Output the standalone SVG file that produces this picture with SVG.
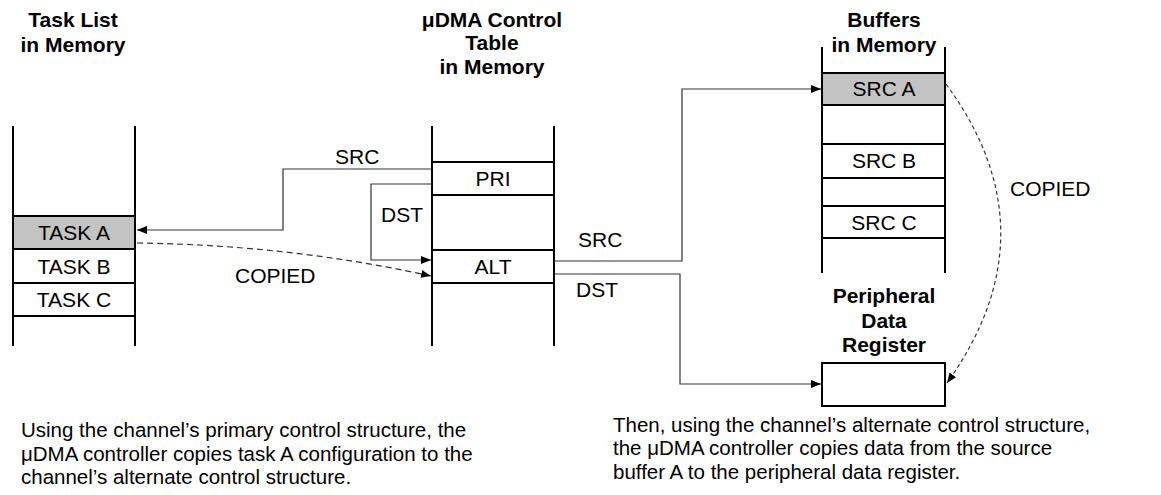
<svg xmlns="http://www.w3.org/2000/svg" width="1161" height="495" viewBox="0 0 1161 495">
<defs>
<style>
.t{font-family:"Liberation Sans",Arial,sans-serif;font-size:21px;fill:#000}
.c{font-size:20.5px}
.b{font-weight:bold}
.m{text-anchor:middle}
.col{stroke:#000;stroke-width:2;fill:none}
.row{stroke:#000;stroke-width:2;fill:#fff}
.sel{stroke:#000;stroke-width:2;fill:#c3c3c3}
.con{stroke:#333;stroke-width:1.2;fill:none}
.dash{stroke:#333;stroke-width:1.2;fill:none;stroke-dasharray:6 4}
.dash2{stroke:#333;stroke-width:1.2;fill:none;stroke-dasharray:4 3}
</style>
<marker id="ar" viewBox="0 0 10 10" refX="10" refY="5" markerWidth="10" markerHeight="10" markerUnits="userSpaceOnUse" orient="auto">
<path d="M0,1 L10,5 L0,9 Z" fill="#000"/>
</marker>
</defs>
<rect width="1161" height="495" fill="#fff"/>

<g id="task-list">
<text class="t b m" x="73" y="27">Task List</text>
<text class="t b m" x="73" y="52">in Memory</text>
<line class="col" x1="13" y1="126" x2="13" y2="346"/>
<line class="col" x1="135" y1="126" x2="135" y2="346"/>
<rect class="sel" x="13" y="216" width="122" height="33"/>
<rect class="row" x="13" y="249" width="122" height="34"/>
<rect class="row" x="13" y="283" width="122" height="33"/>
<text class="t m" x="74" y="240">TASK A</text>
<text class="t m" x="74" y="274">TASK B</text>
<text class="t m" x="74" y="307">TASK C</text>
</g>

<g id="control-table">
<text class="t b m" x="492" y="27">μDMA Control</text>
<text class="t b m" x="492" y="50">Table</text>
<text class="t b m" x="492" y="74">in Memory</text>
<line class="col" x1="432" y1="126" x2="432" y2="346"/>
<line class="col" x1="554" y1="126" x2="554" y2="346"/>
<rect class="row" x="432" y="162" width="122" height="33"/>
<rect class="row" x="432" y="250" width="122" height="33"/>
<text class="t m" x="493" y="186">PRI</text>
<text class="t m" x="493" y="274">ALT</text>
</g>

<g id="buffers">
<text class="t b m" x="884" y="27">Buffers</text>
<text class="t b m" x="884" y="52">in Memory</text>
<line class="col" x1="822" y1="47" x2="822" y2="273"/>
<line class="col" x1="945" y1="47" x2="945" y2="273"/>
<rect class="sel" x="822" y="73" width="123" height="32"/>
<rect class="row" x="822" y="144" width="123" height="34"/>
<rect class="row" x="822" y="206" width="123" height="32"/>
<text class="t m" x="884" y="96">SRC A</text>
<text class="t m" x="884" y="168">SRC B</text>
<text class="t m" x="884" y="230">SRC C</text>
</g>

<g id="peripheral">
<text class="t b m" x="884" y="303">Peripheral</text>
<text class="t b m" x="884" y="328">Data</text>
<text class="t b m" x="884" y="352">Register</text>
<rect class="row" x="822" y="363" width="123" height="43"/>
</g>

<g id="connectors">
<path class="con" d="M432,169 H283 V230 H137" marker-end="url(#ar)"/>
<path class="con" d="M432,184 H371 V260 H431" marker-end="url(#ar)"/>
<path class="dash" d="M137,243 Q290,245 431,276" marker-end="url(#ar)"/>
<path class="con" d="M555,261 H682 V89 H821" marker-end="url(#ar)"/>
<path class="con" d="M555,274 H680 V384 H821" marker-end="url(#ar)"/>
<path class="dash2" d="M946,84 Q1055,232 947,383" marker-end="url(#ar)"/>
<text class="t" x="335" y="164">SRC</text>
<text class="t" x="381" y="222">DST</text>
<text class="t" x="235" y="283">COPIED</text>
<text class="t" x="578" y="247">SRC</text>
<text class="t" x="576" y="297">DST</text>
<text class="t" x="1010" y="196">COPIED</text>
</g>

<g id="captions">
<text class="t c" x="21" y="437">Using the channel’s primary control structure, the</text>
<text class="t c" x="21" y="461">μDMA controller copies task A configuration to the</text>
<text class="t c" x="21" y="484">channel’s alternate control structure.</text>
<text class="t c" x="613" y="432">Then, using the channel’s alternate control structure,</text>
<text class="t c" x="613" y="455">the μDMA controller copies data from the source</text>
<text class="t c" x="613" y="479">buffer A to the peripheral data register.</text>
</g>
</svg>
